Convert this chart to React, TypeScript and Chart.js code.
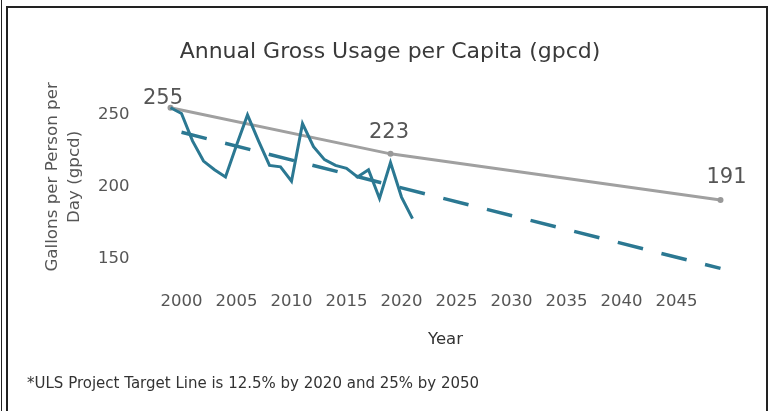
import React, { useEffect, useRef } from 'react';
import { Chart, registerables } from 'chart.js';

Chart.register(...registerables);

// ---- Data ----
const actualYears = [1999, 2000, 2001, 2002, 2003, 2004, 2005, 2006, 2007, 2008, 2009, 2010, 2011, 2012, 2013, 2014, 2015, 2016, 2017, 2018, 2019, 2020, 2021];
const actualValues = [255, 251, 232, 218, 212, 207, 229, 250, 232, 215, 214, 204, 244, 228, 219, 215, 213, 207, 212, 192, 217, 193, 178];

const targetYears = [1999, 2019, 2049];
const targetValues = [255, 223, 191];

const trendYears = [2000, 2049];
const trendValues = [238, 143.5];

const xTickValues = [2000, 2005, 2010, 2015, 2020, 2025, 2030, 2035, 2040, 2045];
const yTickValues = [150, 200, 250];

const chartTitle = 'Annual Gross Usage per Capita (gpcd)';
const yAxisTitle = ['Gallons per Person per', 'Day (gpcd)'];
const xAxisTitle = 'Year';
const footnote = '*ULS Project Target Line is 12.5% by 2020 and 25% by 2050';

// label offsets (style)
const labelOffsets = [
  [-7.5, -9.5],
  [-1.5, -21.5],
  [6, -22],
];

const BLUE = '#2b7892';
const GRAY = '#a0a0a0';
const FONT = '"DejaVu Sans", sans-serif';

const labelPlugin = {
  id: 'targetLabels',
  afterDatasetsDraw(chart: any) {
    const { ctx } = chart;
    const x = chart.scales.x;
    const y = chart.scales.y;
    ctx.save();
    ctx.font = '21px ' + FONT;
    ctx.fillStyle = '#555555';
    ctx.textAlign = 'center';
    ctx.textBaseline = 'middle';
    targetYears.forEach((yr, i) => {
      const px = x.getPixelForValue(yr) + labelOffsets[i][0];
      const py = y.getPixelForValue(targetValues[i]) + labelOffsets[i][1];
      ctx.fillText(String(targetValues[i]), px, py);
    });
    ctx.restore();
  },
};

export default function App() {
  const canvasRef = useRef<HTMLCanvasElement | null>(null);

  useEffect(() => {
    document.body.style.margin = '0';
    const canvas = canvasRef.current;
    if (!canvas) return;
    const chart = new Chart(canvas, {
      type: 'line',
      data: {
        datasets: [
          {
            label: 'Actual',
            data: actualYears.map((yr, i) => ({ x: yr, y: actualValues[i] })),
            borderColor: BLUE,
            borderWidth: 3,
            pointRadius: 0,
            tension: 0,
            order: 0,
          },
          {
            label: 'Trend',
            data: trendYears.map((yr, i) => ({ x: yr, y: trendValues[i] })),
            borderColor: BLUE,
            borderWidth: 3.5,
            borderDash: [26, 19],
            pointRadius: 0,
            order: 1,
          },
          {
            label: 'Target',
            data: targetYears.map((yr, i) => ({ x: yr, y: targetValues[i] })),
            borderColor: GRAY,
            backgroundColor: '#999999',
            borderWidth: 3,
            pointRadius: 3,
            pointBorderWidth: 0,
            order: 2,
          },
        ],
      },
      options: {
        responsive: false,
        animation: false,
        devicePixelRatio: 1,
        layout: { padding: { left: 48.5, right: 43.5, top: 0, bottom: 47.6 } },
        plugins: {
          legend: { display: false },
          tooltip: { enabled: false },
          title: {
            display: true,
            text: chartTitle,
            color: '#3a3a3a',
            font: { family: FONT, size: 22, weight: 'normal', lineHeight: 1.2 },
            padding: { top: 38.8, bottom: 15.2 },
          },
        },
        scales: {
          x: {
            type: 'linear',
            min: 1998,
            max: 2050,
            grid: { display: false, drawTicks: false },
            border: { display: false },
            afterBuildTicks: (s: any) => {
              s.ticks = xTickValues.map((v) => ({ value: v }));
            },
            afterFit: (s: any) => {
              s.height = 90;
            },
            ticks: {
              color: '#555555',
              padding: 18.4,
              maxRotation: 0,
              autoSkip: false,
              font: { family: FONT, size: 16.5 },
              callback: (v: any) => String(v),
            },
            title: {
              display: true,
              text: xAxisTitle,
              color: '#333333',
              font: { family: FONT, size: 16.5 },
              padding: { top: 0, bottom: 13.5 },
            },
          },
          y: {
            type: 'linear',
            min: 140,
            max: 274,
            grid: { display: false, drawTicks: false },
            border: { display: false },
            afterBuildTicks: (s: any) => {
              s.ticks = yTickValues.map((v) => ({ value: v }));
            },
            afterFit: (s: any) => {
              s.width = 111;
            },
            ticks: {
              color: '#555555',
              padding: 30,
              font: { family: FONT, size: 16.5 },
              callback: (v: any) => String(v),
            },
            title: {
              display: true,
              text: yAxisTitle,
              color: '#555555',
              font: { family: FONT, size: 16.7, lineHeight: '22px' },
              padding: { top: -6.5, bottom: 0 },
            },
          },
        },
      },
      plugins: [labelPlugin],
    });
    return () => chart.destroy();
  }, []);

  return (
    <div style={{ position: 'relative', width: 775, height: 411, background: '#ffffff', overflow: 'hidden' }}>
      <canvas ref={canvasRef} width={775} height={411} style={{ display: 'block', width: 775, height: 411 }} />
      <div style={{ position: 'absolute', left: 1, top: 0, width: 1, height: 411, background: '#222' }} />
      <div style={{ position: 'absolute', left: 6, top: 6, width: 2, height: 405, background: '#222' }} />
      <div style={{ position: 'absolute', left: 6, top: 6, width: 762, height: 2, background: '#222' }} />
      <div style={{ position: 'absolute', left: 766, top: 6, width: 2, height: 405, background: '#222' }} />
      <div
        style={{
          position: 'absolute',
          left: 27,
          top: 374,
          fontFamily: FONT,
          fontSize: 15,
          lineHeight: '18px',
          color: '#333333',
          whiteSpace: 'nowrap',
        }}
      >
        {footnote}
      </div>
    </div>
  );
}
